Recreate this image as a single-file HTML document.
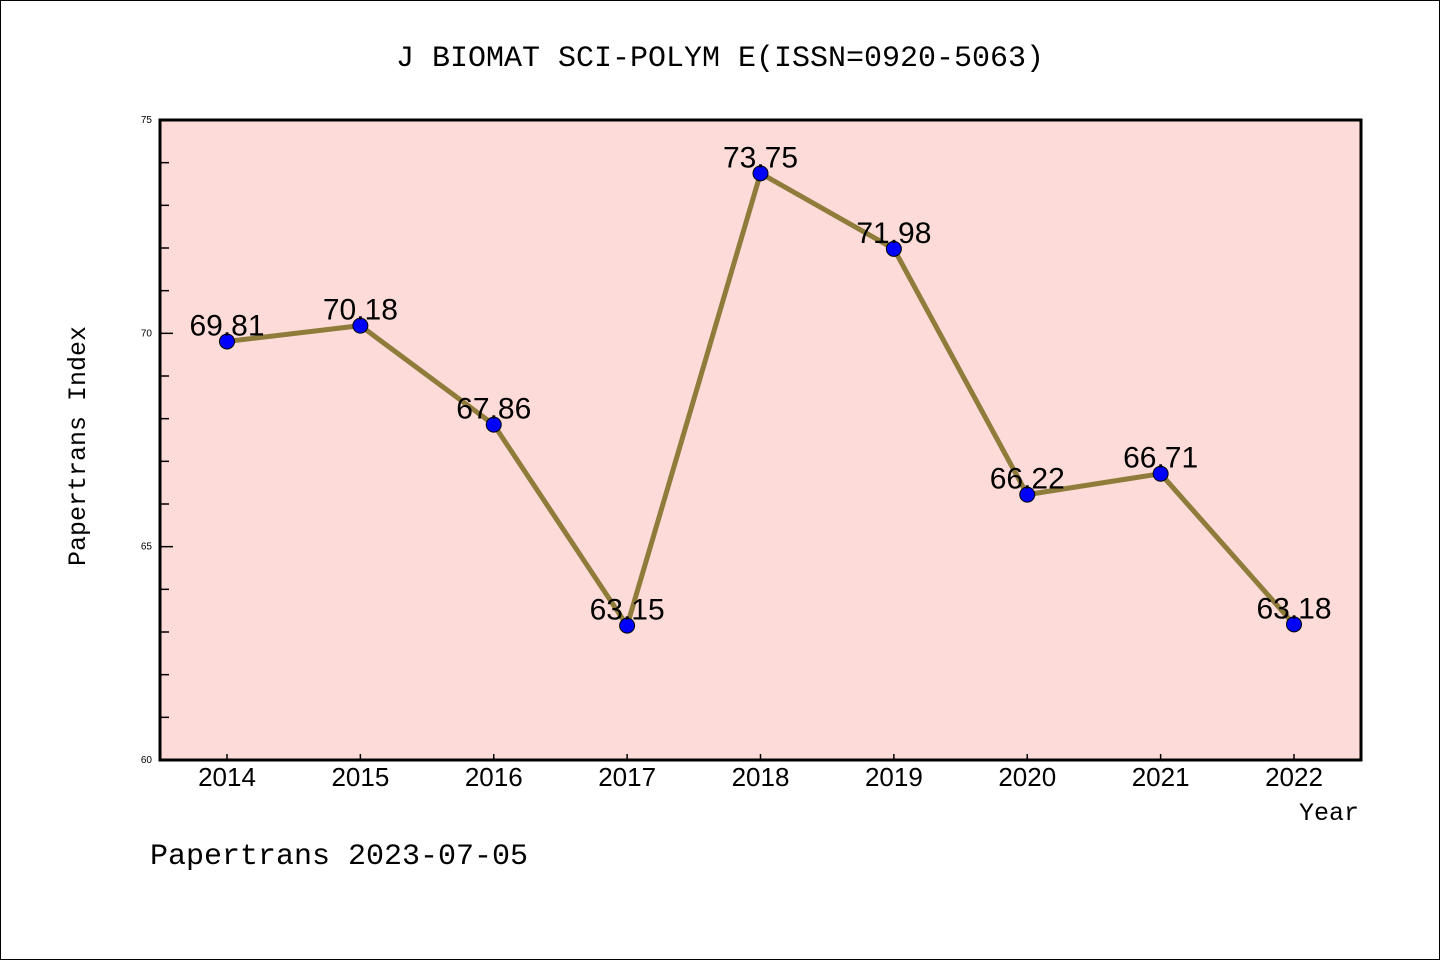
<!DOCTYPE html>
<html><head><meta charset="utf-8"><style>
body{margin:0;background:#fff;}
svg{display:block;}
</style></head><body>
<svg width="1440" height="960" xmlns="http://www.w3.org/2000/svg">
<rect x="0.5" y="0.5" width="1439" height="959" fill="#fff" stroke="#000" stroke-width="1"/>
<text x="720" y="66" text-anchor="middle" font-family="'Liberation Mono','WenQuanYi Zen Hei',monospace" font-size="30">J BIOMAT SCI-POLYM E(ISSN=0920-5063)</text>
<rect x="160" y="120" width="1201" height="640" fill="#fddbd8" stroke="#000" stroke-width="3"/>
<g id="axes"></g>
<g id="series"></g>
<text x="85" y="446" text-anchor="middle" transform="rotate(-90 85 446)" font-family="'Liberation Mono',monospace" font-size="25">Papertrans Index</text>
<text x="1359" y="820" text-anchor="end" font-family="'Liberation Mono',monospace" font-size="25">Year</text>
<text x="150" y="864" font-family="'Liberation Mono',monospace" font-size="30">Papertrans 2023-07-05</text>
</svg>
<script>
const years = ["2014","2015","2016","2017","2018","2019","2020","2021","2022"];
const values = [69.81,70.18,67.86,63.15,73.75,71.98,66.22,66.71,63.18];
const yTicks = [60,65,70,75];
const yMin=60,yMax=75;
const NS="http://www.w3.org/2000/svg";
function ys(v){return 760-(v-yMin)/(yMax-yMin)*640;}
function xs(i){return 227+i*133.375;}
function mk(tag,attrs,parent){const e=document.createElementNS(NS,tag);for(const k in attrs)e.setAttribute(k,attrs[k]);parent.appendChild(e);return e;}
const ax=document.getElementById('axes'), se=document.getElementById('series');
for(let v=yMin+1;v<yMax;v++){
  const major=(v%5===0);
  const t=mk('line',{x1:160,x2:major?173:169,y1:ys(v),y2:ys(v),stroke:'#000','stroke-width':1.5},ax);
  
  
}
yTicks.forEach(v=>{
  const t=mk('text',{x:152,y:ys(v)+3,'text-anchor':'end','font-family':'Liberation Sans,sans-serif','font-size':10},ax);
  t.textContent=v;
  
  
});
years.forEach((y,i)=>{
  const l=mk('line',{x1:xs(i),x2:xs(i),y1:760,y2:754,stroke:'#000','stroke-width':1.5},ax);
  
  
  const t=mk('text',{x:xs(i),y:786,'text-anchor':'middle','font-family':'Liberation Sans,sans-serif','font-size':26},ax);
  t.textContent=y;
  
  
});
const pts=values.map((v,i)=>xs(i)+','+ys(v)).join(' ');
const pl=mk('polyline',{points:pts,fill:'none',stroke:'#8f7c3a','stroke-width':5,'stroke-linejoin':'round'},se);


values.forEach((v,i)=>{
  const c=mk('circle',{cx:xs(i),cy:ys(v),r:7.5,fill:'#0000ff',stroke:'#000','stroke-width':1},se);
  
  
  const t=mk('text',{x:xs(i),y:ys(v)-6,'text-anchor':'middle','font-family':'Liberation Sans,sans-serif','font-size':30},se);
  t.textContent=v.toFixed(2);
  
  
});
</script>
</body></html>
